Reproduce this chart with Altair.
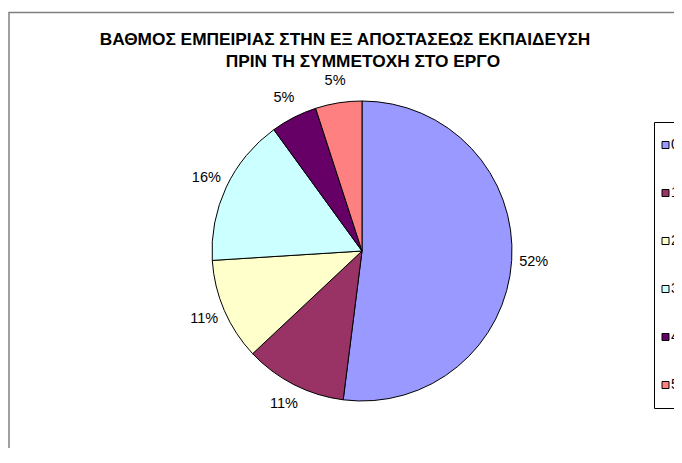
import altair as alt
import pandas as pd

categories = ["0", "1", "2", "3", "4", "5"]
percent = [52, 11, 11, 16, 5, 5]
labels = ["52%", "11%", "11%", "16%", "5%", "5%"]
colors = ["#9999FF", "#993366", "#FFFFCC", "#CCFFFF", "#660066", "#FF8080"]
title_lines = ["ΒΑΘΜΟΣ ΕΜΠΕΙΡΙΑΣ ΣΤΗΝ ΕΞ ΑΠΟΣΤΑΣΕΩΣ ΕΚΠΑΙΔΕΥΣΗ",
               "ΠΡΙΝ ΤΗ ΣΥΜΜΕΤΟΧΗ ΣΤΟ ΕΡΓΟ"]

df = pd.DataFrame({
    "cat": categories,
    "value": percent,
    "label": labels,
    "idx": list(range(len(categories))),
})

FONT = "Liberation Sans"
W, H = 666, 440
CX, CY, R = 354, 243, 150

color_enc = alt.Color("cat:N", scale=alt.Scale(domain=categories, range=colors), legend=None)
theta_enc = alt.Theta("value:Q", stack=True)
order_enc = alt.Order("idx:Q", sort="ascending")

base = alt.Chart(df)

# chart area frame (right/bottom edges run off the page)
frame = base.mark_rect(fill="white", stroke="#808080", strokeWidth=1.5).encode(
    x=alt.value(1), x2=alt.value(W + 50), y=alt.value(4.5), y2=alt.value(H + 50)
).transform_filter(alt.datum.idx == 0)

pie = base.mark_arc(outerRadius=R, stroke="black", strokeWidth=1).encode(
    theta=theta_enc, color=color_enc, order=order_enc,
    x=alt.value(CX), y=alt.value(CY)
)

pct = base.mark_text(radius=172, font=FONT, fontSize=14.5, color="black",
                     baseline="middle", align="center").encode(
    theta=theta_enc, order=order_enc, text="label:N",
    x=alt.value(CX), y=alt.value(CY)
)

t1 = alt.Chart(pd.DataFrame({"t": [title_lines[0]]})).mark_text(
    font=FONT, fontSize=17.3, fontWeight="bold", align="center", baseline="alphabetic", color="black"
).encode(text="t:N", x=alt.value(337), y=alt.value(37))
t2 = alt.Chart(pd.DataFrame({"t": [title_lines[1]]})).mark_text(
    font=FONT, fontSize=17.3, fontWeight="bold", align="center", baseline="alphabetic", color="black"
).encode(text="t:N", x=alt.value(355), y=alt.value(59))

yscale = alt.Scale(domain=categories, range=[137, 377], padding=0)

LX = 646.5
legend_box = base.mark_rect(fill="white", stroke="black", strokeWidth=1).encode(
    x=alt.value(LX), x2=alt.value(W + 40), y=alt.value(114.5), y2=alt.value(400.5)
).transform_filter(alt.datum.idx == 0)

legend_sym = base.mark_square(size=49, stroke="black", strokeWidth=1, opacity=1).encode(
    x=alt.value(LX + 11), y=alt.Y("cat:N", scale=yscale, axis=None), color=color_enc
)
legend_txt = base.mark_text(font=FONT, fontSize=14, align="left", baseline="middle", color="black").encode(
    x=alt.value(LX + 16.5), y=alt.Y("cat:N", scale=yscale, axis=None), text="cat:N"
)

chart = alt.layer(frame, pie, pct, t1, t2, legend_box, legend_sym, legend_txt).properties(
    width=W, height=H, padding=0, autosize=alt.AutoSizeParams(type="none"),
    background="white"
).configure_view(stroke=None)

chart.save("out.html", embed_options={"renderer": "svg", "actions": False})
